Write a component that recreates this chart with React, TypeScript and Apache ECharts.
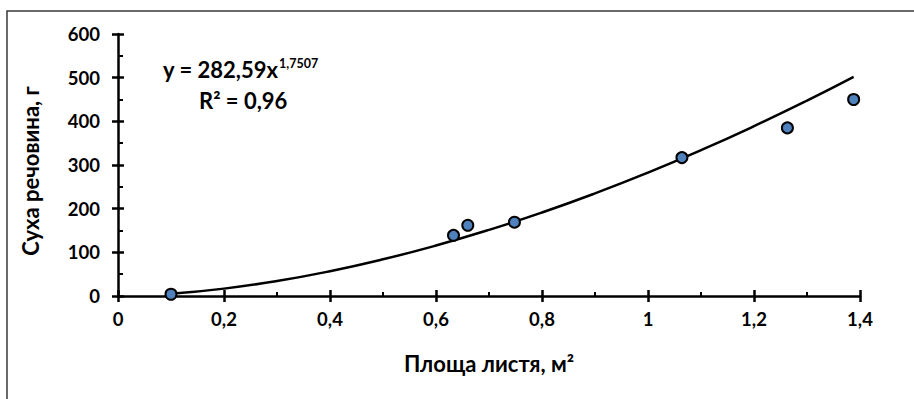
import React, { useEffect, useRef } from "react";
import * as echarts from "echarts";

const leafArea = [0.1, 0.633, 0.66, 0.748, 1.064, 1.263, 1.388];
const dryMatter = [4, 139, 162, 169, 317, 385, 450];
const trendX = [0.1, 0.2, 0.3, 0.4, 0.5, 0.6, 0.7, 0.8, 0.9, 1.0, 1.1, 1.2, 1.3, 1.388];
const trendY = [5.0, 16.9, 34.3, 56.8, 84.0, 115.6, 151.4, 191.2, 235.0, 282.6, 333.9, 388.9, 447.3, 501.7];
const equationMain = "y = 282,59x";
const equationExp = "1,7507";
const rSquared = "R² = 0,96";
const xTitle = "Площа листя, м²";
const yTitle = "Суха речовина, г";

const FONT = "Lato";
const fmt = (v: number) => String(Number(v.toFixed(2))).replace(".", ",");

export default function App() {
  const ref = useRef<HTMLDivElement>(null);
  useEffect(() => {
    const chart = echarts.init(ref.current!, null, { renderer: "svg" });
    const axisCommon = { min: 0, splitLine: { show: false } };
    chart.setOption({
      animation: false,
      backgroundColor: "#fff",
      grid: { left: 118, top: 34, width: 742, height: 262 },
      xAxis: [
        {
          ...axisCommon,
          type: "value",
          position: "bottom",
          max: 1.4,
          interval: 0.2,
          axisLine: { onZero: false, lineStyle: { color: "#000", width: 2.5 } },
          axisTick: { inside: true, length: 6, lineStyle: { color: "#000", width: 2.5 } },
          minorTick: { show: true, splitNumber: 2, length: 4, lineStyle: { color: "#000", width: 2 } },
          axisLabel: { formatter: fmt, color: "#000", fontFamily: FONT, fontWeight: "bold", fontSize: 18.5, margin: 13 },
          name: xTitle,
          nameLocation: "middle",
          nameGap: 56,
          nameTextStyle: { color: "#000", fontFamily: FONT, fontWeight: "bold", fontSize: 22 },
        },
        {
          ...axisCommon,
          type: "value",
          position: "bottom",
          max: 1.4,
          interval: 0.2,
          axisLine: { show: false, onZero: false },
          axisTick: { inside: false, length: 6, lineStyle: { color: "#000", width: 2.5 } },
          axisLabel: { show: false },
        },
      ],
      yAxis: [
        {
          ...axisCommon,
          type: "value",
          position: "left",
          max: 600,
          interval: 100,
          axisLine: { show: true, onZero: false, lineStyle: { color: "#000", width: 2.5 } },
          axisTick: { show: true, inside: true, length: 6, lineStyle: { color: "#000", width: 2.5 } },
          minorTick: { show: true, splitNumber: 2, length: 5, lineStyle: { color: "#000", width: 2 } },
          axisLabel: { color: "#000", fontFamily: FONT, fontWeight: "bold", fontSize: 18.5, margin: 18 },
        },
        {
          ...axisCommon,
          type: "value",
          position: "left",
          max: 600,
          interval: 100,
          axisLine: { show: false, onZero: false },
          axisTick: { show: true, inside: false, length: 6, lineStyle: { color: "#000", width: 2.5 } },
          axisLabel: { show: false },
        },
      ],
      graphic: [
        {
          type: "rect",
          shape: { x: 7, y: 11, width: 1000, height: 500 },
          style: { fill: "none", stroke: "#3a3a3a", lineWidth: 1.5 },
          silent: true,
        },
        {
          type: "text",
          x: 30,
          y: 171,
          rotation: Math.PI / 2,
          style: { text: yTitle, fill: "#000", font: `bold 22px ${FONT}`, align: "center", verticalAlign: "middle" },
        },
        {
          type: "text",
          x: 163,
          y: 80,
          style: { text: equationMain, fill: "#000", font: `bold 22px ${FONT}`, verticalAlign: "bottom" },
        },
        {
          type: "text",
          x: 279,
          y: 70,
          style: { text: equationExp, fill: "#000", font: `bold 12.5px ${FONT}`, verticalAlign: "bottom" },
        },
        {
          type: "text",
          x: 199,
          y: 111,
          style: { text: rSquared, fill: "#000", font: `bold 22px ${FONT}`, verticalAlign: "bottom" },
        },
      ],
      series: [
        {
          type: "line",
          data: trendX.map((x, i) => [x, trendY[i]]),
          smooth: true,
          showSymbol: false,
          lineStyle: { color: "#000", width: 2.5 },
          xAxisIndex: 0,
          yAxisIndex: 0,
          z: 2,
        },
        {
          type: "scatter",
          data: leafArea.map((x, i) => [x, dryMatter[i]]),
          symbol: "circle",
          symbolSize: 11,
          itemStyle: { color: "#4F81BD", borderColor: "#000", borderWidth: 2, opacity: 1 },
          xAxisIndex: 0,
          yAxisIndex: 0,
          z: 3,
        },
      ],
    });
    return () => chart.dispose();
  }, []);
  return (
    <div
      ref={ref}
      style={{ position: "fixed", left: 0, top: 0, width: 914, height: 399, background: "#fff" }}
    />
  );
}
